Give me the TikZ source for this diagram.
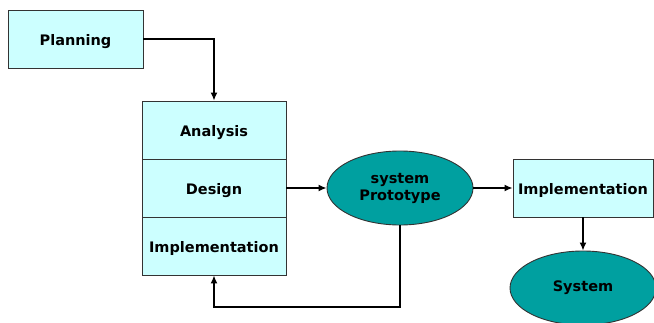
\documentclass[tikz,border=0pt]{standalone}
\usepackage{fontspec}
\setmainfont{DejaVu Sans}
\usetikzlibrary{arrows.meta,shapes.geometric}
\definecolor{boxfill}{HTML}{CCFFFF}
\definecolor{ovalfill}{HTML}{00A0A0}
\begin{document}
\begin{tikzpicture}[x=1pt,y=-1pt]
    \tikzset{phase/.style = {draw=black!80, fill=boxfill, line width=0.9pt, minimum width=144pt, minimum height=58pt, inner sep=0pt, text height=12pt, text depth=0pt, font=\bfseries\fontsize{14.5}{17}\selectfont}}
    \tikzset{oval/.style = {ellipse, draw=black!80, fill=ovalfill, line width=0.9pt, minimum width=146pt, minimum height=74pt, inner sep=0pt, align=center, font=\bfseries\fontsize{14.5}{17}\selectfont}}
    \tikzset{edge/.style = {-{Latex[length=8pt,width=7pt]}, line width=1.4pt}}
    \useasboundingbox (0,0) rectangle (654,322);
    \clip (0,0) rectangle (654,322);
    \node[phase, minimum width=135pt] (plan) at (75.5,39) {Planning};
    \node[phase] (ana) at (214,130) {Analysis};
    \node[phase] (des) at (214,188) {Design};
    \node[phase] (imp) at (214,246) {Implementation};
    \node[oval] (proto) at (400,188) {system\\Prototype};
    \node[phase, minimum width=140pt] (impl) at (583,188) {Implementation};
    \node[oval] (sys) at (583,288) {System};
    \coordinate (back) at (400,307);
    \draw[edge] (plan.east) -| (ana.north);
    \draw[edge] (des.east) -- (proto.west);
    \draw[edge] (proto.east) -- (impl.west);
    \draw[edge] (impl.south) -- (sys.north);
    \draw[edge] (proto.south) -- (back) -| (imp.south);
\end{tikzpicture}
\end{document}
